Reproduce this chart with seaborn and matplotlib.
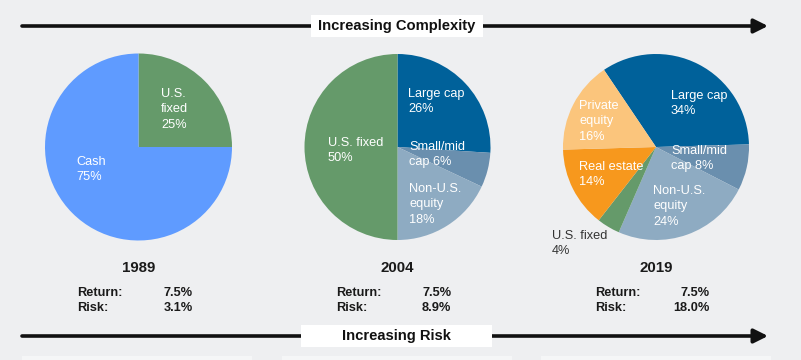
import matplotlib
matplotlib.use('Agg')
import matplotlib.pyplot as plt
import seaborn as sns
from matplotlib.patches import Rectangle

# Portfolio mixes
years = ['1989', '2004', '2019']
returns = ['7.5%', '7.5%', '7.5%']
risks = ['3.1%', '8.9%', '18.0%']

assets_1989 = ['U.S. fixed', 'Cash']
shares_1989 = [25, 75]

assets_2004 = ['Large cap', 'Small/mid cap', 'Non-U.S. equity', 'U.S. fixed']
shares_2004 = [26, 6, 18, 50]

assets_2019 = ['Large cap', 'Small/mid cap', 'Non-U.S. equity', 'U.S. fixed',
               'Real estate', 'Private equity']
shares_2019 = [34, 8, 24, 4, 14, 16]

# how each label is broken over lines
label_fmt = {
    'U.S. fixed': 'U.S. fixed\n{}%',
    'Cash': 'Cash\n{}%',
    'Large cap': 'Large cap\n{}%',
    'Small/mid cap': 'Small/mid\ncap {}%',
    'Non-U.S. equity': 'Non-U.S.\nequity\n{}%',
    'Real estate': 'Real estate\n{}%',
    'Private equity': 'Private\nequity\n{}%',
}

colors = {
    'Cash': '#5f9bff',
    'U.S. fixed': '#659a6a',
    'Large cap': '#00619a',
    'Small/mid cap': '#6a8fae',
    'Non-U.S. equity': '#8eabc2',
    'Real estate': '#f7981d',
    'Private equity': '#fbc57c',
}

sns.set_theme(style='white')
plt.rcParams['font.family'] = ['Liberation Sans', 'DejaVu Sans']

bg = '#eeeff1'
W, H = 801, 360
fig = plt.figure(figsize=(W / 100, H / 100), dpi=100, facecolor=bg)

# pie placement in pixels: centre x, centre y, radius, start angle
pies = [
    (assets_1989, shares_1989, 138.5, 147, 93.5, 90),
    (assets_2004, shares_2004, 397.5, 147, 93, 90),
    (assets_2019, shares_2019, 656, 147, 93, 124),
]

# label anchors (left, top) in pixels, per pie
label_pos = [
    {'U.S. fixed': (161, 88), 'Cash': (76, 156)},
    {'Large cap': (408, 88), 'Small/mid cap': (409, 141),
     'Non-U.S. equity': (409, 183), 'U.S. fixed': (328, 137)},
    {'Large cap': (671, 90), 'Small/mid cap': (671, 145),
     'Non-U.S. equity': (653, 185), 'U.S. fixed': (552, 230),
     'Real estate': (579, 161), 'Private equity': (579, 100)},
]

for assets, shares, cx, cy, r, start in pies:
    ax = fig.add_axes([(cx - r) / W, (H - cy - r) / H, 2 * r / W, 2 * r / H])
    ax.pie(shares, colors=[colors[a] for a in assets], startangle=start,
           counterclock=False, wedgeprops=dict(linewidth=0))
    ax.set_xlim(-1, 1)
    ax.set_ylim(-1, 1)
    ax.set_aspect('equal')
    ax.axis('off')

# overlay in pixel coordinates
ov = fig.add_axes([0, 0, 1, 1], zorder=10)
ov.set_xlim(0, W)
ov.set_ylim(H, 0)
ov.axis('off')
ov.patch.set_alpha(0)

# 1989 label wraps differently
first_fmt = dict(label_fmt)
first_fmt['U.S. fixed'] = 'U.S.\nfixed\n{}%'

for i, (assets, shares, cx, cy, r, start) in enumerate(pies):
    fmt = first_fmt if i == 0 else label_fmt
    for a, s in zip(assets, shares):
        x, y = label_pos[i][a]
        txt = fmt[a].format(s)
        if i == 2 and a == 'U.S. fixed':
            col = '#333333'
        else:
            col = 'white'
        ov.text(x, y, txt, color=col, fontsize=9.2, ha='left', va='top',
                linespacing=1.38)
    ov.text(cx, 268, years[i], fontsize=10.8, fontweight='bold',
            ha='center', va='center', color='#1a1a1a')
    ov.text(cx - 61, 293, 'Return:', fontsize=9.2, fontweight='bold',
            ha='left', va='center', color='#1a1a1a')
    ov.text(cx - 61, 308, 'Risk:', fontsize=9.2, fontweight='bold',
            ha='left', va='center', color='#1a1a1a')
    ov.text(cx + 54, 293, returns[i], fontsize=9.2, fontweight='bold',
            ha='right', va='center', color='#1a1a1a')
    ov.text(cx + 54, 308, risks[i], fontsize=9.2, fontweight='bold',
            ha='right', va='center', color='#1a1a1a')

# arrows with labels
for y, label, box in [(26, 'Increasing Complexity', (311, 15, 172, 22)),
                      (336, 'Increasing Risk', (301, 325, 191, 22))]:
    ov.annotate('', xy=(768, y), xytext=(22, y),
                arrowprops=dict(arrowstyle='-|>,head_length=0.7,head_width=0.35',
                                lw=2.6, color='#111111', shrinkA=0, shrinkB=0))
    bx, by, bw, bh = box
    ov.add_patch(Rectangle((bx, by), bw, bh, facecolor='white',
                           edgecolor='none', zorder=3))
    ov.text(bx + bw / 2, by + bh / 2, label, fontsize=10.6, fontweight='bold',
            ha='center', va='center', color='#111111', zorder=4)

# faint panels peeking at the bottom edge
for x0 in [22, 282, 541]:
    ov.add_patch(Rectangle((x0, 356), 230, 6, facecolor='#f5f6f7',
                           edgecolor='none'))

fig.savefig('out.png', dpi=100, facecolor=bg)
